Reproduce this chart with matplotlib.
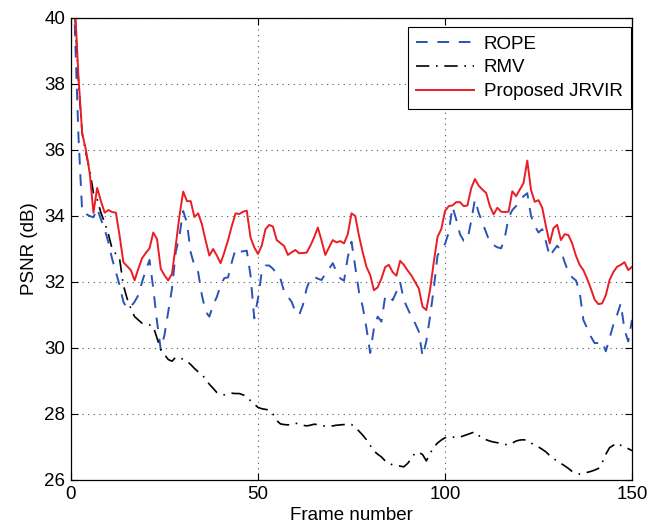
import matplotlib
matplotlib.use("Agg")
import matplotlib.pyplot as plt
import numpy as np

plt.rcParams['font.family'] = ['Liberation Sans', 'DejaVu Sans']

frames = np.arange(1, 151)

rope = [39.8, 36.4, 34.1, 34.06, 34.0, 33.96, 34.23, 33.9, 33.6, 33.2,
        32.7, 32.3, 31.9, 31.4, 31.2, 31.25, 31.4, 31.6, 32.0, 32.36,
        32.67, 31.8, 30.8, 29.95, 30.4, 31.1, 31.8, 32.9, 33.4, 34.15,
        33.8, 32.9, 32.5, 32.3, 31.6, 31.1, 30.95, 31.3, 31.55, 31.9,
        32.12, 32.14, 32.6, 33.0, 32.92, 32.93, 32.95, 32.2, 30.9, 31.5,
        32.3, 32.5, 32.5, 32.4, 32.25, 32.1, 31.7, 31.55, 31.4, 31.1,
        31.0, 31.3, 31.8, 32.11, 32.16, 32.1, 32.06, 32.25, 32.4, 32.57,
        32.3, 32.11, 32.04, 32.75, 33.22, 32.45, 31.7, 31.25, 30.6, 29.85,
        30.6, 30.95, 30.8, 31.56, 31.6, 31.45, 31.7, 32.0, 31.45, 31.2,
        30.95, 30.75, 30.5, 29.75, 30.2, 30.95, 31.8, 32.8, 33.0, 33.15,
        33.5, 34.28, 33.9, 33.45, 33.25, 33.27, 33.85, 34.5, 34.1, 33.8,
        33.5, 33.2, 33.12, 33.05, 33.02, 33.35, 33.95, 34.18, 34.3, 34.45,
        34.6, 34.69, 34.0, 33.7, 33.5, 33.6, 33.22, 32.77, 32.95, 33.1,
        32.95, 32.6, 32.3, 32.14, 32.05, 31.7, 30.85, 30.6, 30.35, 30.15,
        30.15, 30.2, 29.9, 30.3, 30.7, 31.0, 31.35, 30.55, 30.2, 30.85]

rmv = [40.2, 38.1, 36.5, 35.9, 35.4, 34.7, 34.5, 34.1, 33.8, 33.45,
       33.0, 32.85, 32.7, 31.9, 31.5, 31.2, 30.95, 30.85, 30.75, 30.72,
       30.7, 30.65, 30.3, 29.95, 29.8, 29.65, 29.6, 29.72, 29.7, 29.66,
       29.6, 29.5, 29.38, 29.28, 29.2, 29.05, 28.9, 28.78, 28.65, 28.6,
       28.58, 28.62, 28.63, 28.62, 28.62, 28.58, 28.53, 28.4, 28.3, 28.2,
       28.16, 28.14, 28.12, 28.0, 27.8, 27.7, 27.68, 27.67, 27.68, 27.72,
       27.7, 27.66, 27.64, 27.66, 27.69, 27.68, 27.65, 27.63, 27.62, 27.64,
       27.66, 27.67, 27.68, 27.7, 27.68, 27.6, 27.48, 27.36, 27.22, 27.05,
       26.88, 26.78, 26.7, 26.58, 26.5, 26.46, 26.44, 26.42, 26.4, 26.5,
       26.65, 26.82, 26.84, 26.77, 26.58, 26.8, 27.0, 27.12, 27.21, 27.28,
       27.31, 27.3, 27.29, 27.3, 27.34, 27.38, 27.42, 27.46, 27.35, 27.26,
       27.22, 27.18, 27.15, 27.13, 27.11, 27.08, 27.06, 27.12, 27.18, 27.21,
       27.22, 27.2, 27.12, 27.06, 27.0, 26.93, 26.85, 26.74, 26.66, 26.56,
       26.5, 26.43, 26.35, 26.26, 26.22, 26.18, 26.2, 26.23, 26.26, 26.3,
       26.35, 26.52, 26.78, 26.98, 27.05, 27.12, 27.05, 27.0, 26.95, 26.89]

jrvir = [40.5, 38.2, 36.5, 36.0, 35.3, 34.1, 34.85, 34.45, 34.1, 34.18,
         34.12, 34.1, 33.4, 32.6, 32.48, 32.36, 32.05, 32.4, 32.72, 32.88,
         33.02, 33.5, 33.3, 32.4, 32.2, 32.05, 32.25, 33.1, 34.0, 34.74,
         34.45, 34.45, 33.97, 34.08, 33.75, 33.25, 32.8, 33.0, 32.8, 32.57,
         32.9, 33.27, 33.7, 34.08, 34.06, 34.13, 34.16, 33.35, 33.05, 32.85,
         33.1, 33.6, 33.73, 33.68, 33.27, 33.18, 33.09, 32.82, 32.9, 32.97,
         32.87, 32.88, 32.89, 33.1, 33.35, 33.65, 33.25, 32.82, 33.05, 33.27,
         33.2, 33.24, 33.17, 33.45, 34.08, 34.0, 33.4, 32.9, 32.46, 32.21,
         31.75, 31.84, 32.1, 32.45, 32.52, 32.3, 32.19, 32.64, 32.52, 32.35,
         32.2, 32.0, 31.8, 31.25, 31.15, 31.76, 32.6, 33.37, 33.6, 34.15,
         34.3, 34.32, 34.42, 34.42, 34.3, 34.32, 34.84, 35.12, 34.92, 34.8,
         34.7, 34.3, 34.05, 34.25, 34.13, 34.12, 34.13, 34.75, 34.6, 34.8,
         35.0, 35.68, 34.79, 34.43, 34.48, 34.25, 33.68, 33.17, 33.63, 33.73,
         33.27, 33.45, 33.42, 33.17, 32.8, 32.52, 32.36, 32.1, 31.8, 31.47,
         31.33, 31.35, 31.6, 32.06, 32.3, 32.46, 32.52, 32.6, 32.36, 32.46]

labels = ['ROPE', 'RMV', 'Proposed JRVIR']
xticks = [0, 50, 100, 150]
yticks = [26, 28, 30, 32, 34, 36, 38, 40]

FS = 13.5

fig = plt.figure(figsize=(6.49, 5.32), dpi=100)
ax = fig.add_axes([71/649, 52/532, 561/649, 462/532])

ax.plot(frames, rope, color='#2a52b8', lw=1.4, dashes=(6, 5), label=labels[0])
ax.plot(frames, rmv, color='black', lw=1.2, dashes=(8, 4, 1, 4), label=labels[1])
ax.plot(frames, jrvir, color='#ea1c24', lw=1.4, label=labels[2])

ax.set_xlim(0, 150)
ax.set_ylim(26, 40)
ax.set_xticks(xticks)
ax.set_yticks(yticks)
ax.grid(True, color='#555555', linestyle=(0, (1, 4)), linewidth=0.8)
ax.tick_params(direction='in', top=True, right=True, labelsize=FS, length=5, width=0.8, pad=4)
for s in ax.spines.values():
    s.set_linewidth(0.9)
ax.set_xlabel('Frame number', fontsize=FS, labelpad=3)
ax.set_ylabel('PSNR (dB)', fontsize=FS, labelpad=5)

leg = ax.legend(loc='upper right', bbox_to_anchor=(1.0 - 1/561, 1.0 - 9/462), borderaxespad=0,
                fontsize=FS, frameon=True, fancybox=False, edgecolor='black', framealpha=1,
                handlelength=3.1, borderpad=0.45, labelspacing=0.36, handletextpad=0.5)
leg.get_frame().set_linewidth(0.8)

fig.savefig('out.png', dpi=100)
